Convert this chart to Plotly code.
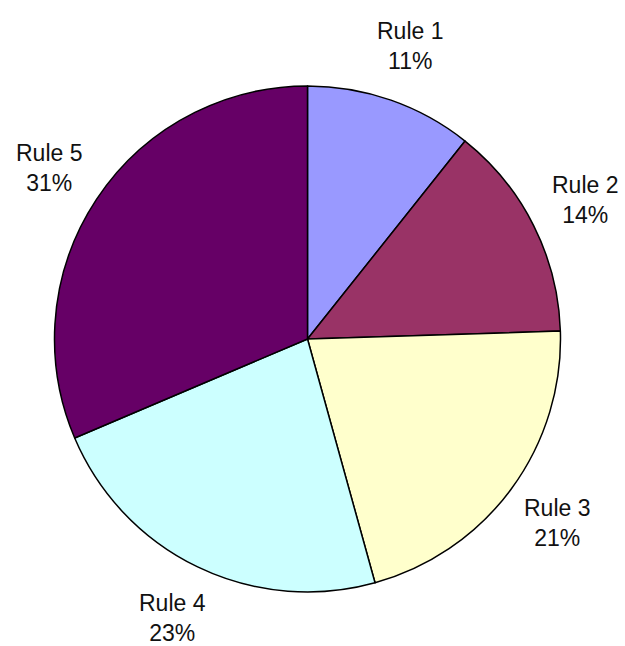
import math
import plotly.graph_objects as go

labels = ["Rule 1", "Rule 2", "Rule 3", "Rule 4", "Rule 5"]
values = [10.7, 13.8, 21.2, 22.9, 31.4]
colors = ["#9999FF", "#993366", "#FFFFCC", "#CCFFFF", "#660066"]

W, H = 625, 646
cx, cy, R = 307.5, 339, 253
label_r = 310

fig = go.Figure(go.Pie(
    labels=labels, values=values, sort=False, direction="clockwise", rotation=0,
    marker=dict(colors=colors, line=dict(color="black", width=1.5)),
    textinfo="none", hoverinfo="label+percent", showlegend=False,
    domain=dict(x=[(cx - R) / W, (cx + R) / W], y=[(H - cy - R) / H, (H - cy + R) / H]),
))

total = sum(values)
cum = 0
annotations = []
for lab, v in zip(labels, values):
    mid = (cum + v / 2) / total * 2 * math.pi
    cum += v
    px = cx + label_r * math.sin(mid)
    py = cy - label_r * math.cos(mid)
    pct = round(v / total * 100)
    annotations.append(dict(
        x=px / W, y=1 - py / H, xref="paper", yref="paper",
        text=f"{lab}<br>{pct}%", showarrow=False,
        font=dict(family="Liberation Sans, Arial, sans-serif", size=23, color="#111111"),
        xanchor="center", yanchor="middle", align="center",
    ))

fig.update_layout(
    width=W, height=H, margin=dict(l=0, r=0, t=0, b=0),
    paper_bgcolor="white", plot_bgcolor="white",
    annotations=annotations,
)
fig.write_html("out.html")
